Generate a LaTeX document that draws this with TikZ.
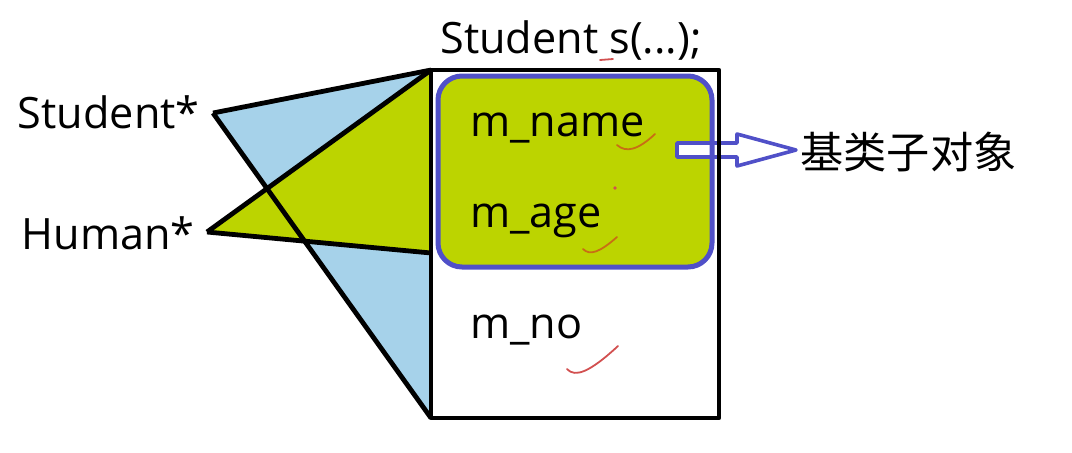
\documentclass[tikz,border=0pt]{standalone}
\usepackage{fontspec}
\setmainfont{Open Sans}
\newfontfamily\cjk{Noto Sans CJK SC}
\definecolor{skyfill}{RGB}{166,210,234}
\definecolor{limefill}{RGB}{188,212,0}
\definecolor{boxblue}{RGB}{80,80,200}
\definecolor{tickred}{RGB}{210,80,80}
\definecolor{tickorange}{RGB}{200,110,20}

\begin{document}
\begin{tikzpicture}[x=0.5pt,y=-0.5pt,line join=round,
    frame/.style={draw=black,line width=2.4pt},
    lbl/.style={font=\fontsize{21.6}{26}\selectfont,inner sep=0pt},
    tick/.style={line width=0.9pt,line cap=round}]
    \useasboundingbox (0,0) rectangle (1072,452);

    % pointers and object corners
    \coordinate (sp) at (213,113);
    \coordinate (hp) at (207,232);
    \coordinate (tl) at (431,70);
    \coordinate (ml) at (431,253);
    \coordinate (bl) at (431,418);
    \coordinate (br) at (719,418);

    \node[lbl,anchor=base east] (S) at (200,128) {Student*};
    \node[lbl,anchor=base east] (H) at (195,249) {Human*};
    \node[lbl,anchor=base west] (T) at (440,53) {Student s(...);};

    \fill[skyfill]  (sp) -- (tl) -- (bl) -- cycle;
    \fill[limefill] (hp) -- (tl) -- (ml) -- cycle;
    \fill[limefill,rounded corners=12pt] (438,76) rectangle (712,267);

    % hollow arrow to the base part
    \draw[boxblue,line width=1.8pt,fill=white]
        (677,143) -- (737,143) -- (737,134) -- (796,150) -- (737,166)
        -- (737,157) -- (677,157) -- cycle;

    \draw[boxblue,line width=2.5pt,rounded corners=12pt] (438,76) rectangle (712,267);
    \draw[frame] (tl) rectangle (br);
    \draw[frame] (sp) -- (tl);
    \draw[frame] (sp) -- (bl);
    \draw[frame] (hp) -- (tl);
    \draw[frame] (hp) -- (ml);

    \node[lbl,anchor=base west] (N) at (470,136) {m\_name};
    \node[lbl,anchor=base west] (A) at (470,227) {m\_age};
    \node[lbl,anchor=base west] (O) at (470,338) {m\_no};
    \node[lbl,anchor=west] (B) at (800,152) {\cjk 基类子对象};

    % hand ticks
    \draw[tick,tickorange] (617,145) .. controls (626,153) and (638,150) .. (655,134);
    \draw[tick,tickorange] (583,249) .. controls (590,256) and (600,252) .. (617,237);
    \draw[tick,tickred] (567,369) .. controls (575,378) and (590,372) .. (618,346);
    \draw[tick,tickred] (600,60) -- (613,59);
    \fill[tickred] (615,188) circle (1.8);
\end{tikzpicture}
\end{document}
